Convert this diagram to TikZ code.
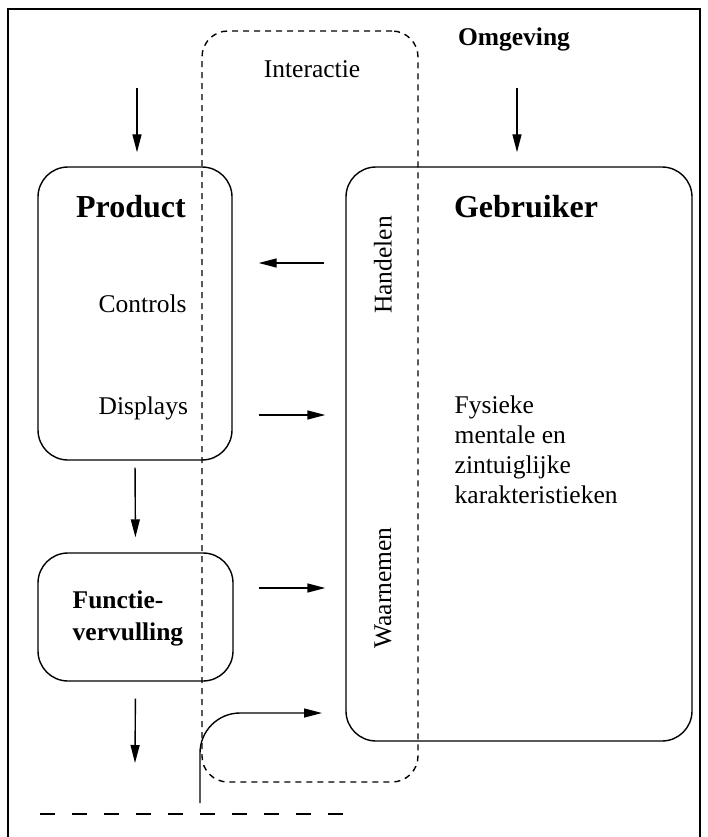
\documentclass[tikz,border=0pt]{standalone}
\usepackage{fontspec}
\setmainfont{Liberation Serif}
\usetikzlibrary{arrows.meta,calc,positioning}
\tikzset{
    txt/.style ={inner sep=0pt, font=\fontsize{25.5}{30}\selectfont},
    boldtxt/.style ={inner sep=0pt, font=\fontsize{25.5}{32}\selectfont\bfseries},
    big/.style ={inner sep=0pt, font=\fontsize{32}{36}\selectfont\bfseries}
}
\begin{document}
\begin{tikzpicture}[x=1pt,y=-1pt,line width=1.4pt,
block/.style={rectangle,draw,rounded corners=30pt,inner sep=0pt},
zone/.style={rectangle,draw,rounded corners=26pt,dash pattern=on 6pt off 5pt,inner sep=0pt},
paths/.style={-{Triangle[length=18pt,width=9pt]}}]
\useasboundingbox (0,0) rectangle (708,837);
\draw[line width=1.8pt] (8,837) |- (700,9) -- (700,837);
% boxes
\node [zone, minimum width=216pt, minimum height=751pt] (IA) at (310,406.5) {};
\node [block, minimum width=194pt, minimum height=293pt] (PR) at (135,313.5) {};
\node [block, minimum width=346pt, minimum height=574pt] (GB) at (519,454) {};
\node [block, minimum width=195pt, minimum height=128pt] (FV) at (135.5,617) {};
% labels
\node [boldtxt, anchor=base] (OM) at (514,46) {Omgeving};
\node [txt, anchor=base] (IT) at (312,78) {Interactie};
\node [big, anchor=base] (PRt) at (131,217) {Product};
\node [big, anchor=base] (GBt) at (526,217) {Gebruiker};
\node [txt, anchor=base west] (CT) at (98,312) {Controls};
\node [txt, anchor=base west] (DP) at (98,414) {Displays};
\node [txt, rotate=90] (HD) at (383,265) {Handelen};
\node [txt, rotate=90] (WN) at (383,588) {Waarnemen};
\node [txt, anchor=north west, align=left] (KR) at (454,395.5) {Fysieke\\mentale en\\zintuiglijke\\karakteristieken};
\node [boldtxt, anchor=north west, align=left] (FVt) at (72,590.5) {Functie-\\vervulling};
% arrows
\coordinate (inP) at (137,88);
\coordinate (inG) at (517,88);
\coordinate (outF) at (135,763);
\coordinate (loopS) at (200,803);
\coordinate (loopE) at (322,713);
\foreach \src in {inP, inG}
\draw [paths, shorten >=14pt] (\src) -- (\src |- GB.north);
\draw [paths, shorten <=21pt, shorten >=26pt] (GB.west |- 0,263) -- (PR.east |- 0,263);
\foreach \y in {415,588}
\draw [paths, shorten <=26pt, shorten >=20pt] (PR.east |- 0,\y) -- (GB.west |- 0,\y);
\draw [paths, shorten <=7pt, shorten >=15pt] (PR.south) -- (FV.north);
\draw [paths, shorten <=17pt] (FV.south) -- (outF);
\draw [paths, rounded corners=40pt] (loopS) |- (loopE);
\coordinate (gl) at (40,814);
\coordinate (gr) at (345,814);
\draw [dash pattern=on 15pt off 17pt] (gl) -- (gr);
\end{tikzpicture}
\end{document}
